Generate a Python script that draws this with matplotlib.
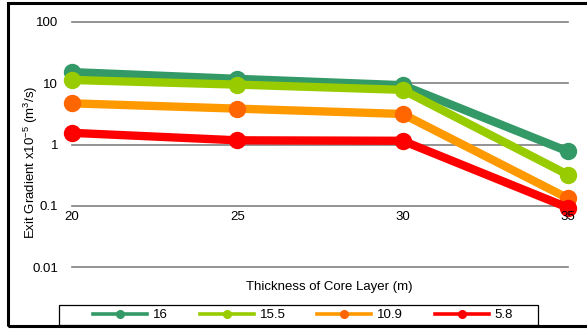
import matplotlib
matplotlib.use('Agg')
import matplotlib.pyplot as plt
from matplotlib.patches import Rectangle
from matplotlib.ticker import FixedLocator, NullLocator, FixedFormatter

plt.rcParams.update({
    'font.family': ['Liberation Sans', 'DejaVu Sans'],
    'font.size': 9.5,
    'mathtext.default': 'regular',
})

# Core layer thickness (m) and exit gradient (x10^-5 m3/s) per series
thickness = [20, 25, 30, 35]
series_labels = ['16', '15.5', '10.9', '5.8']
grad_16 = [15.2, 11.8, 9.3, 0.77]
grad_15_5 = [11.3, 9.5, 7.8, 0.32]
grad_10_9 = [4.7, 3.85, 3.15, 0.132]
grad_5_8 = [1.55, 1.17, 1.15, 0.093]

y_ticks = [0.01, 0.1, 1, 10, 100]
y_tick_labels = ['0.01', '0.1', '1', '10', '100']

line_colors = ['#339966', '#99CC00', '#FF9900', '#FF0000']
marker_colors = ['#339966', '#99CC00', '#FF6600', '#FF0000']

fig = plt.figure(figsize=(5.87, 3.29), dpi=100)
ax = fig.add_axes([72 / 587, 1 - 267 / 329, 496 / 587, 245 / 329])

# outer chart border (runs off the right edge)
fig.patches.append(Rectangle((8 / 587, 3 / 329), 1.2, 1 - 6 / 329,
                             transform=fig.transFigure, fill=False,
                             edgecolor='black', linewidth=2.2, zorder=0))

ax.set_yscale('log')
ax.set_ylim(0.01, 100)
ax.set_xlim(20, 35)

for yv in y_ticks:
    ax.axhline(yv, color='#808080', linewidth=1.2, zorder=1, clip_on=False)

all_series = [grad_16, grad_15_5, grad_10_9, grad_5_8]
for vals, lab, lc, mc in zip(all_series, series_labels, line_colors, marker_colors):
    ax.plot(thickness, vals, color=lc, linewidth=6, solid_capstyle='round',
            marker='o', markersize=11.5, markerfacecolor=mc, markeredgecolor=mc,
            zorder=3, clip_on=False, label=lab)

for s in ax.spines.values():
    s.set_visible(False)

ax.yaxis.set_major_locator(FixedLocator(y_ticks))
ax.yaxis.set_major_formatter(FixedFormatter(y_tick_labels))
ax.yaxis.set_minor_locator(NullLocator())
ax.set_xticks(thickness)
ax.set_xticklabels([])
ax.tick_params(axis='both', length=0)
ax.tick_params(axis='y', pad=10)

# x tick labels hang from the 0.1 line (axis crosses there)
for xv in thickness:
    ax.text(xv, 0.083, str(xv), ha='center', va='top', zorder=5)

fig.text(329 / 587, 1 - 287 / 329, 'Thickness of Core Layer (m)',
         ha='center', va='center')
fig.text(31 / 587, 1 - 162 / 329, 'Exit Gradient x10$^{-5}$ (m$^{3}$/s)',
         ha='center', va='center', rotation=90)

# legend with its own frame
fig.patches.append(Rectangle((59 / 587, 1 - 325 / 329), 479 / 587, 20 / 329,
                             transform=fig.transFigure, fill=False,
                             edgecolor='black', linewidth=0.9, zorder=1))
handles = [plt.Line2D([0], [0], color=lc, linewidth=2.6, marker='o',
                      markersize=5.5, markerfacecolor=mc, markeredgecolor=mc)
           for lc, mc in zip(line_colors, marker_colors)]
fig.legend(handles, series_labels, loc='center',
           bbox_to_anchor=(303 / 587, 1 - 315 / 329), ncol=4, frameon=False,
           handlelength=4.1, handletextpad=0.45, columnspacing=2.4,
           borderpad=0)

fig.savefig('out.png', dpi=100)
